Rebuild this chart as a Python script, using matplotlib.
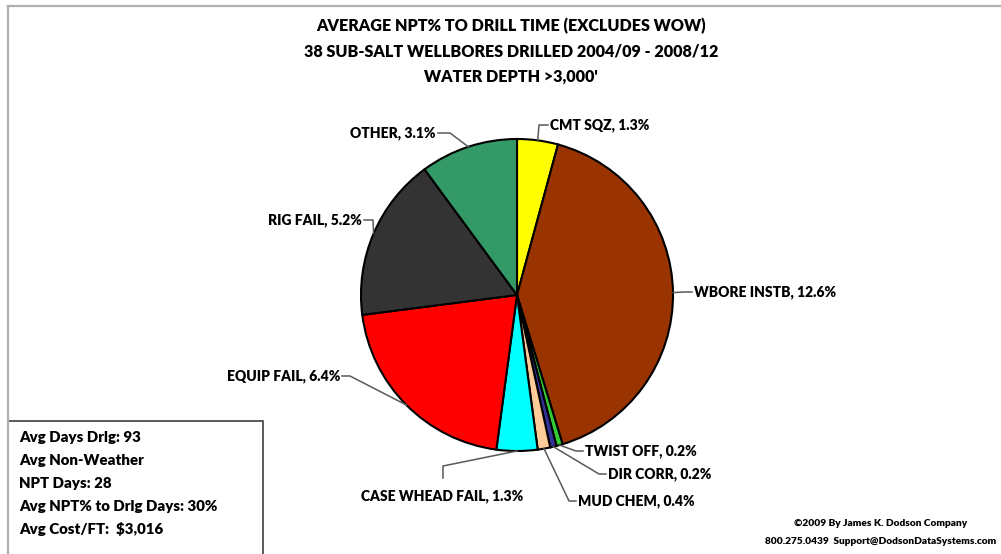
import matplotlib
matplotlib.use("Agg")
import matplotlib.pyplot as plt
import numpy as np
from matplotlib.patches import Rectangle
from matplotlib.lines import Line2D

# ---- data ----
categories = ["CMT SQZ", "WBORE INSTB", "TWIST OFF", "DIR CORR", "MUD CHEM",
              "CASE WHEAD FAIL", "EQUIP FAIL", "RIG FAIL", "OTHER"]
npt_pct = [1.3, 12.6, 0.2, 0.2, 0.4, 1.3, 6.4, 5.2, 3.1]
colors = ["#FFFF00", "#993300", "#33CC33", "#333399", "#FFCC99",
          "#00FFFF", "#FF0000", "#333333", "#339966"]

title_lines = ["AVERAGE NPT% TO DRILL TIME (EXCLUDES WOW)",
               "38 SUB-SALT WELLBORES DRILLED 2004/09 - 2008/12",
               "WATER DEPTH >3,000'"]
stats_lines = ["Avg Days Drlg: 93", "Avg Non-Weather", "NPT Days: 28",
               "Avg NPT% to Drlg Days: 30%", "Avg Cost/FT:  $3,016"]
footer_lines = ["\u00a92009 By James K. Dodson Company",
                "800.275.0439  Support@DodsonDataSystems.com"]

# ---- layout (pixel units, y measured from the top) ----
W, H = 1001, 554
CX, CY, R = 517, 295, 156
# label text anchor (x, y), horizontal alignment, elbow point of the leader
label_layout = {
    "CMT SQZ":         ((550, 125), "left",   (539, 125)),
    "WBORE INSTB":     ((694, 292), "left",   (684, 292)),
    "TWIST OFF":       ((585, 451), "left",   (576, 451)),
    "DIR CORR":        ((608, 474), "left",   (599, 474)),
    "MUD CHEM":        ((578, 501), "left",   (569, 501)),
    "CASE WHEAD FAIL": ((442, 496), "center", (443, 466)),
    "EQUIP FAIL":      ((340, 376), "right",  (350, 376)),
    "RIG FAIL":        ((362, 220), "right",  (373, 220)),
    "OTHER":           ((436, 133), "right",  (450, 133)),
}

FONT = "Lato"
plt.rcParams["font.family"] = [FONT, "DejaVu Sans"]
WEIGHT = "heavy"

fig = plt.figure(figsize=(W / 100, H / 100), dpi=100)
ax = fig.add_axes([0, 0, 1, 1])


def py(y):
    return H - y


wedges, _ = ax.pie(npt_pct, colors=colors, startangle=90, counterclock=False,
                   center=(CX, py(CY)), radius=R, frame=True,
                   wedgeprops=dict(edgecolor="black", linewidth=1.5))
ax.set_xlim(0, W)
ax.set_ylim(0, H)
ax.set_aspect("equal")
ax.axis("off")

# outer frame of the chart area
ax.add_line(Line2D([8, W], [py(6), py(6)], color="#B0B0B0", lw=1.6))
ax.add_line(Line2D([8, 8], [py(6), 0], color="#B0B0B0", lw=1.6))

for w, name, val in zip(wedges, categories, npt_pct):
    ang = np.deg2rad((w.theta1 + w.theta2) / 2)
    ax_x = CX + R * np.cos(ang)
    ax_y = py(CY) + R * np.sin(ang)
    (tx, ty), ha, (ex, ey) = label_layout[name]
    if ha == "left":
        end = (tx - 2, py(ty))
    elif ha == "right":
        end = (tx + 2, py(ty))
    else:
        end = (ex, py(ty) + 18)
    ax.add_line(Line2D([ax_x, ex, end[0]], [ax_y, py(ey), end[1]],
                       color="#595959", lw=1.1, zorder=1))
    ax.text(tx, py(ty), f"{name}, {val}%", ha=ha, va="center",
            fontsize=10, fontweight=WEIGHT, color="black")

for i, line in enumerate(title_lines):
    ax.text(511, py(25.5 + 25.8 * i), line, ha="center", va="center",
            fontsize=11.6, fontweight=WEIGHT, color="black")

# statistics box
ax.add_patch(Rectangle((8, -2), 255, py(421) + 2, facecolor="white",
                       edgecolor="#404040", lw=1.2))
for i, line in enumerate(stats_lines):
    ax.text(19, py(438 + 22.8 * i), line, ha="left", va="center",
            fontsize=10.8, fontweight=WEIGHT, color="black")

for i, line in enumerate(footer_lines):
    ax.text(881, py(523 + 18 * i), line, ha="center", va="center",
            fontsize=7.3, fontweight=WEIGHT, color="black")

fig.savefig("out.png", dpi=100)
